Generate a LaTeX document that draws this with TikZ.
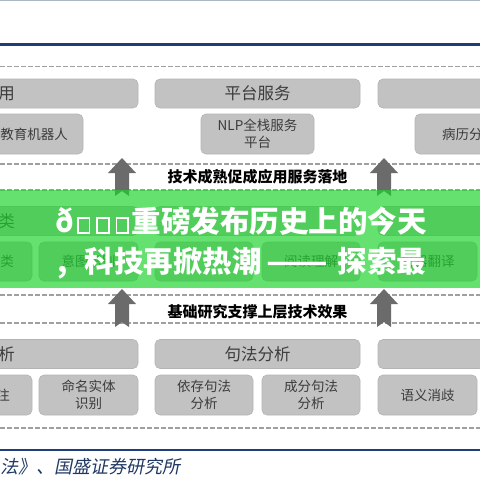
\documentclass[tikz,border=0pt]{standalone}
\usepackage{fontspec}
\newfontfamily\cjk{Noto Sans CJK SC}
\newfontfamily\cjkslant[FakeSlant=0.2]{Noto Sans CJK SC}
\definecolor{boxgray}{HTML}{C2C2C2}
\definecolor{boxedge}{HTML}{B4B4B4}
\definecolor{boxtext}{HTML}{3C3C3C}
\definecolor{dashgray}{HTML}{A0A0A0}
\definecolor{navy}{HTML}{1F3D7A}
\definecolor{topgray}{HTML}{A9B8C2}
\definecolor{arrgray}{HTML}{6B6B6B}
\definecolor{bannergreen}{RGB}{27,211,42}
\definecolor{foottext}{HTML}{1F3864}
\newcommand\tofu{\hspace{3pt}{\fboxrule=1.6pt\fboxsep=0pt\fbox{\rule{0pt}{13pt}\hspace{10pt}}}\hspace{3pt}}
\newcommand\blockarr[3]{\fill[arrgray] (#1,#2) -- (#1+14,#2+15) -- (#1+7,#2+15) -- (#1+7,#3) -- (#1,#3-5) -- (#1-7,#3) -- (#1-7,#2+15) -- (#1-14,#2+15) -- cycle;}
\begin{document}
\begin{tikzpicture}[x=1pt,y=-1pt,
  bx/.style={fill=boxgray, draw=boxedge, line width=0.6pt, rounded corners=5pt, inner sep=0pt},
  hdrtxt/.style={font=\cjk\fontsize{16.5}{20}\selectfont, text=boxtext, inner sep=0pt},
  bodytxt/.style={font=\cjk\fontsize{13.5}{16.5}\selectfont, text=boxtext, inner sep=0pt, align=center},
  dline/.style={draw=dashgray, line width=1.3pt, dash pattern=on 4.5pt off 2.5pt},
  midlabel/.style={font=\cjk\bfseries\fontsize{15}{18}\selectfont, text=black, inner sep=0pt},
  bannertxt/.style={font=\cjk\bfseries\fontsize{29.5}{34}\selectfont, text=white, inner sep=0pt}]
\useasboundingbox (0,0) rectangle (480,480);
\clip (0,0) rectangle (480,480);
\fill[white] (0,0) rectangle (480,480);
% frame lines
\draw[topgray, line width=1.5pt] (0,0.5) -- (480,0.5);
\draw[navy, line width=2.2pt] (0,44.5) -- (480,44.5);
\draw[navy, line width=2.2pt] (0,450) -- (480,450);
% dashed separators
\foreach \yy in {66.5,164,190,295,323,428} \draw[dline] (0,\yy) -- (480,\yy);
% section 1
\node[bx, minimum width=288pt, minimum height=29pt] (a1) at (-6,93.5) {};
\node[bx, minimum width=205pt, minimum height=29pt] (a2) at (257.5,93.5) {};
\node[bx, minimum width=282pt, minimum height=29pt] (a3) at (519,93.5) {};
\node[hdrtxt, anchor=east] (ta1) at (15,93.5) {用};
\node[hdrtxt] (ta2) at (a2) {平台服务};
\node[bx, minimum width=123pt, minimum height=40pt] (b1) at (21.5,134) {};
\node[bx, minimum width=113pt, minimum height=40pt] (b2) at (257.5,134) {};
\node[bx, minimum width=125pt, minimum height=40pt] (b3) at (477.5,134) {};
\node[bodytxt, anchor=east] (tb1) at (68,134) {教育机器人};
\node[bodytxt] (tb2) at (b2) {NLP全栈服务\\平台};
\node[bodytxt, anchor=west] (tb3) at (442,134) {病历分};
% section 2 (under banner)
\node[bx, minimum width=288pt, minimum height=29pt] (c1) at (-6,221) {};
\node[bx, minimum width=205pt, minimum height=29pt] (c2) at (257.5,221) {};
\node[bx, minimum width=282pt, minimum height=29pt] (c3) at (519,221) {};
\node[hdrtxt, anchor=east] (tc1) at (15,221) {类};
\node[bx, minimum width=98pt, minimum height=39pt] (d1) at (-17,261.5) {};
\node[bx, minimum width=99pt, minimum height=39pt] (d2) at (88.5,261.5) {};
\node[bx, minimum width=98pt, minimum height=39pt] (d3) at (204,261.5) {};
\node[bx, minimum width=98pt, minimum height=39pt] (d4) at (311,261.5) {};
\node[bx, minimum width=99pt, minimum height=39pt] (d5) at (427.5,261.5) {};
\node[bodytxt, anchor=east] (td1) at (14,261.5) {类};
\node[bodytxt] (td2) at (d2) {意图识别};
\node[bodytxt] (td4) at (d4) {阅读理解};
\node[bodytxt] (td5) at (d5) {机器翻译};
% section 3
\node[bx, minimum width=288pt, minimum height=29pt] (e1) at (-6,354) {};
\node[bx, minimum width=205pt, minimum height=29pt] (e2) at (257.5,354) {};
\node[bx, minimum width=282pt, minimum height=29pt] (e3) at (519,354) {};
\node[hdrtxt, anchor=east] (te1) at (15,354) {析};
\node[hdrtxt] (te2) at (e2) {句法分析};
\node[bx, minimum width=98pt, minimum height=40pt] (f1) at (-17,395) {};
\node[bx, minimum width=99pt, minimum height=40pt] (f2) at (88.5,395) {};
\node[bx, minimum width=98pt, minimum height=40pt] (f3) at (204,395) {};
\node[bx, minimum width=98pt, minimum height=40pt] (f4) at (311,395) {};
\node[bx, minimum width=99pt, minimum height=40pt] (f5) at (427.5,395) {};
\node[bodytxt, anchor=east] (tf1) at (10,395) {注};
\node[bodytxt] (tf2) at (f2) {命名实体\\识别};
\node[bodytxt] (tf3) at (f3) {依存句法\\分析};
\node[bodytxt] (tf4) at (f4) {成分句法\\分析};
\node[bodytxt] (tf5) at (f5) {语义消歧};
% arrows
\blockarr{122}{158}{196}
\blockarr{384}{158}{196}
\blockarr{122}{289}{327}
\blockarr{384}{289}{327}
% middle labels
\node[midlabel] (m1) at (257.5,177) {技术成熟促成应用服务落地};
\node[midlabel] (m2) at (257.5,312) {基础研究支撑上层技术效果};
% banner
\fill[bannergreen, opacity=0.68] (0,190) rectangle (480,288);
\node[bannertxt, anchor=base west] (l1) at (55,232) {ð\tofu\tofu\tofu 重磅发布历史上的今天};
\node[bannertxt, anchor=base west] (l2) at (57,272) {,\hspace{17pt}科技再掀热潮\hspace{5pt}\makebox[62pt][c]{\scalebox{1.22}[1]{——}}\hspace{9pt}探索最};
% footer
\node[font=\cjkslant\fontsize{18}{22}\selectfont, text=foottext, inner sep=0pt, anchor=west] (ft) at (0,467) {法》、国盛证券研究所};
\end{tikzpicture}
\end{document}
